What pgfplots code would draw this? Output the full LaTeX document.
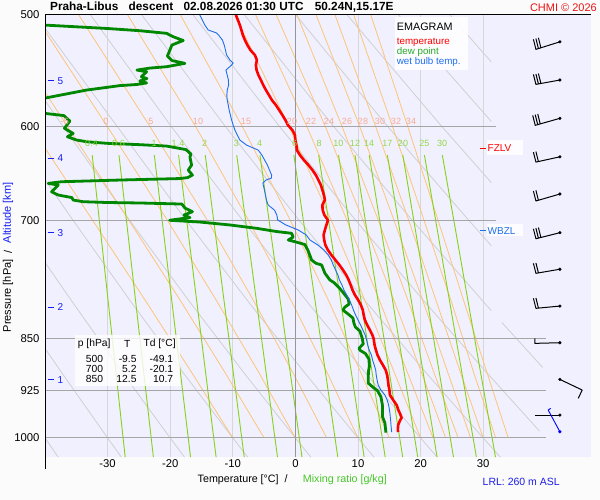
\documentclass[border=0pt]{standalone}
\usepackage{fontspec}
\setmainfont{Liberation Sans}
\usepackage{pgfplots}
\pgfplotsset{compat=1.18}
\definecolor{lav}{RGB}{240,240,255}
\definecolor{pagebg}{RGB}{251,251,251}
\definecolor{moist}{RGB}{255,196,120}
\definecolor{dry}{RGB}{208,208,208}
\definecolor{mix}{RGB}{135,210,20}
\definecolor{mixlab}{RGB}{150,215,70}
\definecolor{moistlab}{RGB}{250,170,145}
\definecolor{tgrid}{RGB}{215,215,215}
\definecolor{zgrid}{RGB}{150,150,150}
\definecolor{pgrid}{RGB}{165,165,165}
\definecolor{tred}{RGB}{255,0,0}
\definecolor{tdgreen}{RGB}{0,135,0}
\definecolor{leggreen}{RGB}{40,170,40}
\definecolor{wbblue}{RGB}{30,110,235}
\definecolor{altblue}{RGB}{20,30,245}
\definecolor{labgreen}{RGB}{70,200,40}
\definecolor{lrlblue}{RGB}{30,30,230}
\definecolor{chmired}{RGB}{235,20,20}
\pgfplotsset{
  mixl/.style={mix, line width=0.9pt},
  moistl/.style={moist, line width=0.8pt},
  dryl/.style={dry, line width=0.8pt},
  barb/.style={black, line width=1pt},
}
\tikzset{t/.style={inner sep=0pt, anchor=west}}
\begin{document}
\begin{tikzpicture}[x=1pt,y=1pt]
\path[use as bounding box, fill=pagebg] (0,0) rectangle (600,500);
\begin{axis}[
  at={(45pt,43pt)}, anchor=south west,
  scale only axis, width=546pt, height=442pt,
  xmin=-40, xmax=47.22, ymin=500, ymax=1031.8,
  ymode=log, y dir=reverse,
  axis background/.style={fill=lav},
  axis line style={draw=none},
  major tick length=0pt, tick style={draw=none},
  ytick={500,600,700,850,925,1000},
  yticklabels={500,600,700,850,925,1000},
  xtick={-30,-20,-10,0,10,20,30},
  xticklabels={-30,-20,-10,0,10,20,30},
  ticklabel style={font=\fontsize{11.3}{11.3}\selectfont},
  yticklabel style={xshift=-2pt},
  xticklabel style={yshift=1pt},
  clip=true,
  every axis plot/.append style={no markers, line join=round},
]
% temperature grid
\addplot[tgrid, line width=1pt] coordinates {(-30,500) (-30,1031.8)};
\addplot[tgrid, line width=1pt] coordinates {(-20,500) (-20,1031.8)};
\addplot[tgrid, line width=1pt] coordinates {(-10,500) (-10,1031.8)};
\addplot[tgrid, line width=1pt] coordinates {(10,500) (10,1031.8)};
\addplot[tgrid, line width=1pt] coordinates {(20,500) (20,1031.8)};
\addplot[tgrid, line width=1pt] coordinates {(30,500) (30,1031.8)};
% dry adiabats
\addplot[dryl] coordinates {(-37.89,1032) (-40,1000) (-41,985)};
\addplot[dryl] coordinates {(-27.80,1032) (-30,1000) (-37.22,900) (-40,863.5)};
\addplot[dryl] coordinates {(-17.71,1032) (-20,1000) (-27.51,900) (-35.65,800) (-40,750)};
\addplot[dryl] coordinates {(-7.62,1032) (-10,1000) (-17.81,900) (-26.27,800) (-35.52,700) (-40,655)};
\addplot[dryl] coordinates {(2.47,1032) (0,1000) (-8.11,900) (-16.89,800) (-26.49,700) (-37.13,600) (-40,575)};
\addplot[dryl] coordinates {(12.56,1032) (10,1000) (1.60,900) (-7.50,800) (-17.46,700) (-28.49,600) (-40,510.9)};
\addplot[dryl] coordinates {(22.65,1032) (20,1000) (11.30,900) (1.88,800) (-8.43,700) (-19.85,600) (-32.72,500)};
\addplot[dryl] coordinates {(32.74,1032) (30,1000) (21.00,900) (11.26,800) (0.60,700) (-11.21,600) (-24.52,500)};
\addplot[dryl] coordinates {(39,988.9) (30.71,900) (20.64,800) (9.63,700) (-2.56,600) (-16.32,500)};
\addplot[dryl] coordinates {(31.3,811.9) (18.66,700) (6.08,600) (-8.11,500)};
\addplot[dryl] coordinates {(33,827.8) (39.5,890.9)};
\addplot[dryl] coordinates {(31.3,729.8) (27.69,700) (14.71,600) (0.09,500)};
\addplot[dryl] coordinates {(31.3,658.1) (23.36,600) (8.29,500)};
\addplot[dryl] coordinates {(31.3,595.3) (24.50,550) (16.49,500)};
\addplot[dryl] coordinates {(31.3,540) (24.70,500)};
% moist adiabats
\addplot[moistl] coordinates {(-10,1000) (-16.45,900) (-23.83,800) (-32.39,700) (-42.29,600)};
\addplot[moistl] coordinates {(-5,1000) (-11.13,900) (-18.25,800) (-26.59,700) (-36.44,600) (-48.03,500)};
\addplot[moistl] coordinates {(0,1000) (-5.74,900) (-12.49,800) (-20.45,700) (-30.07,600) (-41.68,500)};
\addplot[moistl] coordinates {(5,1000) (-0.31,900) (-6.58,800) (-14.07,700) (-23.26,600) (-34.60,500)};
\addplot[moistl] coordinates {(10,1000) (5.15,900) (-0.57,800) (-7.49,700) (-15.96,600) (-26.78,500)};
\addplot[moistl] coordinates {(15,1000) (10.53,900) (5.39,800) (-0.81,700) (-8.50,600) (-18.36,500)};
\addplot[moistl] coordinates {(20,1000) (15.88,900) (11.20,800) (5.73,700) (-1.04,600) (-9.68,500)};
\addplot[moistl] coordinates {(22,1000) (17.97,900) (13.52,800) (8.24,700) (1.82,600) (-6.34,500)};
\addplot[moistl] coordinates {(24,1000) (20.21,900) (15.84,800) (10.81,700) (4.77,600) (-3.05,500)};
\addplot[moistl] coordinates {(26,1000) (22.20,900) (18.07,800) (13.25,700) (7.44,600) (0.27,500)};
\addplot[moistl] coordinates {(28,1000) (24.41,900) (20.42,800) (15.75,700) (10.27,600) (3.32,500)};
\addplot[moistl] coordinates {(30,1000) (26.43,900) (22.54,800) (18.10,700) (12.81,600) (6.34,500)};
\addplot[moistl] coordinates {(32,1000) (28.53,900) (24.92,800) (20.55,700) (15.50,600) (9.33,500)};
\addplot[moistl] coordinates {(34,1000) (30.66,900) (26.94,800) (22.79,700) (17.94,600) (12.05,500)};
% mixing ratio lines
\addplot[mixl] coordinates {(-32.46,629) (-27.19,1031.8)};
\addplot[mixl] coordinates {(-28.18,629) (-22.69,1031.8)};
\addplot[mixl] coordinates {(-22.54,629) (-16.75,1031.8)};
\addplot[mixl] coordinates {(-18.66,629) (-12.67,1031.8)};
\addplot[mixl] coordinates {(-14.40,629) (-8.18,1031.8)};
\addplot[mixl] coordinates {(-9.37,629) (-2.86,1031.8)};
\addplot[mixl] coordinates {(-5.66,629) (1.05,1031.8)};
\addplot[mixl] coordinates {(-0.25,629) (6.77,1031.8)};
\addplot[mixl] coordinates {(3.72,629) (10.98,1031.8)};
\addplot[mixl] coordinates {(6.89,629) (14.34,1031.8)};
\addplot[mixl] coordinates {(9.52,629) (17.14,1031.8)};
\addplot[mixl] coordinates {(11.79,629) (19.54,1031.8)};
\addplot[mixl] coordinates {(14.69,629) (22.63,1031.8)};
\addplot[mixl] coordinates {(17.16,629) (25.25,1031.8)};
\addplot[mixl] coordinates {(20.61,629) (28.91,1031.8)};
\addplot[mixl] coordinates {(23.47,629) (31.96,1031.8)};
% 0 C line and pressure grid
\addplot[zgrid, line width=1pt] coordinates {(0,500) (0,1031.8)};
\addplot[pgrid, line width=1pt] coordinates {(-40,600) (32.03,600)};
\addplot[pgrid, line width=1pt] coordinates {(-40,700) (32.03,700)};
\addplot[pgrid, line width=1pt] coordinates {(-40,850) (40,850)};
\addplot[pgrid, line width=1pt] coordinates {(-40,925) (40,925)};
\addplot[pgrid, line width=1pt] coordinates {(-40,1000) (40,1000)};
% dew point
\addplot[tdgreen, line width=2.8pt] coordinates {
(-49.1,500) (-40.0,508.3) (-30.16,511.1) (-24.84,513.0) (-20.58,515.2) (-19.52,518.1) (-17.92,521.3) (-19.73,525.2) (-20.05,529.5) (-20.45,534.8) (-19.73,538.7) (-17.65,541.2) (-20.58,544.2) (-23.24,545.4) (-25.32,547.2) (-23.77,548.7) (-24.60,553.2) (-23.72,554.9) (-24.84,557.1) (-23.77,558.9) (-25.37,560.3) (-28.04,561.3) (-31.23,563.8) (-33.35,565.4) (-40.0,572.9) (-46,580) (-40.0,587.5) (-36.98,589.6) (-36.02,594.9) (-36.90,602.0) (-35.50,607.1) (-36.42,610.4) (-34.95,613.7) (-33.35,615.4) (-30.16,617.0) (-24.84,618.4) (-20.58,619.8) (-17.49,623.4) (-16.69,628.0) (-16.85,631.1) (-16.58,639.4) (-17.12,644.7) (-16.45,650.0) (-17.25,652.7) (-18.45,653.7) (-28.04,655.3) (-37.35,657.1) (-39.49,658.9) (-37.89,660.7) (-38.95,668.0) (-37.89,671.6) (-35.70,674.4) (-35.50,677.1) (-33.90,679.0) (-30.16,679.9) (-24.84,680.4) (-18.13,681.6) (-17.65,686.1) (-16.45,690.2) (-17.81,694.0) (-16.85,696.9) (-20.1,700.0) (-15.26,702.0) (-10.46,705.4) (-6.20,709.2) (-3.00,713.0) (-0.61,715.1) (-0.35,719.5) (-1.15,723.0) (-0.08,725.0) (1.52,728.4) (2.04,736.1) (2.59,747.1) (3.27,751.1) (4.19,753.2) (4.71,763.5) (5.51,772.0) (6.15,775.2) (6.95,781.5) (7.51,786.9) (8.43,796.4) (8.59,802.9) (7.91,806.9) (7.59,810.9) (8.43,816.2) (9.19,821.6) (9.35,828.4) (9.58,833.8) (10.30,839.3) (10.7,850.0) (10.83,857.3) (10.14,863.5) (10.38,866.5) (11.18,870.8) (11.74,878.7) (11.82,888.9) (11.66,897.6) (11.63,914.0) (12.30,919.6) (13.10,925.3) (13.66,934.7) (13.90,947.5) (13.93,966.4) (14.30,975.9) (14.46,991.3)
};
% wet bulb
\addplot[wbblue, line width=0.9pt] coordinates {
(-15.26,500) (-14.86,504.1) (-14.46,508.3) (-13.93,512.4) (-12.59,514.9) (-12.27,516.7) (-11.66,520.9) (-11.37,525.2) (-11.17,529.5) (-10.99,533.9) (-10.46,538.3) (-9.94,540.9) (-10.19,542.7) (-11.10,547.2) (-10.89,551.7) (-10.70,556.2) (-10.67,560.8) (-10.88,565.4) (-10.96,570.1) (-10.89,574.8) (-10.73,579.5) (-10.58,584.3) (-10.38,589.1) (-10.19,593.9) (-9.94,598.8) (-9.66,603.8) (-9.27,608.7) (-8.87,613.7) (-7.80,618.8) (-5.94,623.9) (-5.35,629.0) (-4.92,634.2) (-4.47,639.4) (-4.14,644.7) (-3.80,650.0) (-3.83,653.2) (-4.71,655.3) (-5.19,658.5) (-5.13,660.7) (-4.95,666.1) (-4.79,671.6) (-4.63,677.1) (-4.35,682.7) (-3.35,688.3) (-2.96,694.0) (-2.83,699.7) (-1.52,705.4) (0.45,711.2) (1.74,717.1) (2.32,723.0) (3.59,728.9) (4.55,734.9) (5.27,741.0) (5.73,747.1) (6.04,753.2) (6.42,759.4) (6.79,765.7) (7.03,772.0) (7.43,778.3) (7.75,784.7) (8.19,791.2) (8.63,797.7) (8.99,804.3) (9.27,810.9) (9.62,817.6) (10.02,824.3) (10.42,831.1) (10.78,837.9) (11.15,844.8) (11.37,851.7) (11.55,858.8) (11.79,865.8) (12.14,873.0) (12.33,880.1) (12.59,887.4) (12.83,894.7) (12.91,902.1) (13.05,909.5) (13.23,917.0) (13.66,924.5) (14.30,932.1) (14.66,939.8) (14.89,947.5) (15.03,955.3) (15.13,963.2) (15.21,971.1) (15.27,979.1) (15.37,990.4)
};
% temperature
\addplot[tred, line width=2.6pt] coordinates {
(-9.5,500) (-9.19,504.1) (-8.87,508.3) (-8.63,512.4) (-8.39,516.7) (-8.07,520.9) (-7.67,525.2) (-7.19,529.5) (-6.47,533.9) (-6.15,538.3) (-6.31,542.7) (-6.20,547.2) (-5.91,551.7) (-5.51,556.2) (-5.14,560.8) (-4.71,565.4) (-4.23,570.1) (-3.75,574.8) (-3.12,579.5) (-2.59,584.3) (-2.08,589.1) (-1.60,593.9) (-1.20,598.8) (-0.48,603.8) (-0.08,608.7) (0.00,613.7) (0.16,618.8) (0.24,623.9) (0.72,629.0) (1.36,634.2) (2.08,639.4) (2.72,644.7) (3.27,650.0) (3.67,655.3) (4.07,660.7) (4.31,666.1) (4.55,671.6) (4.71,677.1) (4.31,682.7) (4.35,688.3) (4.63,694.0) (5.2,700.0) (4.95,705.4) (4.71,711.2) (4.50,717.1) (4.60,723.0) (4.79,728.9) (5.19,734.9) (5.75,741.0) (6.39,747.1) (7.03,753.2) (7.59,759.4) (8.12,765.7) (8.51,772.0) (8.83,778.3) (9.12,784.7) (9.50,791.2) (10.02,797.7) (10.46,804.3) (10.77,810.9) (10.91,817.6) (11.10,824.3) (11.47,831.1) (11.90,837.9) (12.30,844.8) (12.5,850.0) (12.65,858.8) (12.86,865.8) (13.12,873.0) (13.50,880.1) (13.98,887.4) (14.42,894.7) (14.66,902.1) (14.78,909.5) (14.87,917.0) (15.02,924.5) (15.10,932.1) (15.62,939.8) (16.17,947.5) (16.45,955.3) (16.81,963.2) (16.96,967.9) (16.74,971.1) (16.41,979.1) (16.36,987.2) (16.42,990.4)
};
% wind barbs
\addplot[barb] coordinates {(38.02,520.3) (38.42,528.9) (42.25,522.4)};
\addplot[barb] coordinates {(38.82,528.2) (38.42,519.6)};
\addplot[barb] coordinates {(39.22,527.6) (38.82,519.0)};
\addplot[barb] coordinates {(38.02,551.1) (38.42,560.2) (42.25,556.2)};
\addplot[barb] coordinates {(38.82,559.8) (38.42,550.7)};
\addplot[barb] coordinates {(39.22,559.4) (38.82,550.3)};
\addplot[barb] coordinates {(37.91,589.4) (38.31,599.1) (42.25,592.2)};
\addplot[barb] coordinates {(38.71,598.4) (38.31,588.7)};
\addplot[barb] coordinates {(39.11,597.7) (38.71,588.0)};
\addplot[barb] coordinates {(38.02,626.0) (38.42,636.3) (42.25,630.8)};
\addplot[barb] coordinates {(38.82,635.7) (38.42,625.4)};
\addplot[barb] coordinates {(38.02,667.2) (38.42,678.2) (42.25,670.5)};
\addplot[barb] coordinates {(38.82,677.4) (38.42,666.4)};
\addplot[barb] coordinates {(38.02,709.8) (38.42,721.5) (42.25,714.4)};
\addplot[barb] coordinates {(38.82,720.8) (38.42,709.1)};
\addplot[barb] coordinates {(39.22,720.1) (38.82,708.4)};
\addplot[barb] coordinates {(38.02,751.2) (38.42,763.6) (42.25,758.5)};
\addplot[barb] coordinates {(38.82,763.1) (38.42,750.7)};
\addplot[barb] coordinates {(38.02,795.5) (38.42,808.6) (42.25,805.6)};
\addplot[barb] coordinates {(38.82,808.2) (38.42,795.1)};
\addplot[barb] coordinates {(38.26,849.4) (38.26,856.4) (42.25,855.5)};
\addplot[barb] coordinates {(42.25,908.5) (45.81,924.5) (45.18,937.2)};
\addplot[barb] coordinates {(38.26,963.2) (42.25,963.2)};
\addplot[blue, line width=0.9pt] coordinates {(42.25,989.9) (40.38,955.3) (40.77,952.6)};
\addplot[only marks, mark=square*, mark size=1.4pt, black] coordinates {(42.25,522.4) (42.25,556.2) (42.25,592.2) (42.25,630.8) (42.25,670.5) (42.25,714.4) (42.25,758.5) (42.25,805.6) (42.25,855.5) (42.25,908.5) (42.25,963.2)};
\addplot[only marks, mark=square*, mark size=1.4pt, blue] coordinates {(42.25,989.9)};
\end{axis}
% axis lines
\draw[black, line width=1pt] (45,31) -- (45,485) -- (591,485);
% title and corner text
\node[t, font=\bfseries\fontsize{11.8}{12}\selectfont] at (50,492.5) {Praha-Libus\hspace{7pt} descent\hspace{7pt} 02.08.2026 01:30 UTC\hspace{8pt} 50.24N,15.17E};
\node[inner sep=0pt, anchor=east, text=chmired, font=\fontsize{11}{12}\selectfont] at (597,492.5) {CHMI © 2026};
% axis titles
\node[t, font=\fontsize{10.7}{11}\selectfont] at (197.5,20) {Temperature [°C]\hspace{6pt}/};
\node[t, text=labgreen, font=\fontsize{10.7}{11}\selectfont] at (302.7,20) {Mixing ratio [g/kg]};
\node[t, text=lrlblue, font=\fontsize{10.5}{11}\selectfont] at (482.5,18.3) {LRL: 260 m ASL};
\node[inner sep=0pt, rotate=90, font=\fontsize{11}{11}\selectfont] at (8,204.2) {Pressure [hPa]};
\node[inner sep=0pt, rotate=90, font=\fontsize{11}{11}\selectfont] at (8,248) {/};
\node[inner sep=0pt, rotate=90, text=altblue, font=\fontsize{11}{11}\selectfont] at (8,287) {Altitude [km]};
% altitude ticks
\foreach \yy/\lab in {419.3/5, 341.7/4, 267.3/3, 192.7/2, 120/1} {
  \draw[altblue, line width=1pt] (47.5,\yy) -- (53.5,\yy);
  \node[t, text=altblue, font=\fontsize{10}{10}\selectfont] at (57.5,\yy) {\lab};
}
% moist adiabat labels
\foreach \xx/\lab in {65/-5, 106/0, 151/5, 198/10, 246/15, 292/20, 311/22, 329/24, 347/26, 363/28, 380/30, 396/32, 411/34} {
  \node[inner sep=0pt, text=moistlab, font=\fontsize{9}{9}\selectfont] at (\xx,379) {\lab};
}
% mixing ratio labels
\foreach \xx/\lab in {91.5/0.4, 118.5/0.6, 154.2/1, 178/1.4, 204.7/2, 236.5/3, 259.6/4, 294.5/6, 319/8, 338.4/10, 355/12, 369.2/14, 387.4/17, 403/20, 424.3/25, 442.2/30} {
  \node[inner sep=0pt, text=mixlab, font=\fontsize{9}{9}\selectfont] at (\xx,357) {\lab};
}
% legend
\fill[white, opacity=0.9] (395,483) rectangle (468,430);
\node[t, font=\fontsize{10.8}{10.8}\selectfont] at (396.7,473) {EMAGRAM};
\node[t, text=tred, font=\fontsize{9.8}{9.8}\selectfont] at (396.7,458) {temperature};
\node[t, text=leggreen, font=\fontsize{9.8}{9.8}\selectfont] at (396.7,448.3) {dew point};
\node[t, text=wbblue, font=\fontsize{9.8}{9.8}\selectfont] at (396.7,438.3) {wet bulb temp.};
% freezing levels
\fill[white, opacity=0.9] (487,360) rectangle (523,345);
\draw[tred, line width=1pt] (480,351.7) -- (485.5,351.7);
\node[t, text=tred, font=\fontsize{10}{10}\selectfont] at (487.5,351.7) {FZLV};
\fill[white, opacity=0.9] (487,276) rectangle (523,264);
\draw[wbblue, line width=1pt] (480,269.3) -- (485.5,269.3);
\node[t, text=wbblue, font=\fontsize{10}{10}\selectfont] at (487.5,269.3) {WBZL};
% table
\fill[white, opacity=0.8] (75,165) rectangle (180,114);
\node[t, font=\fontsize{10.3}{10.3}\selectfont] at (77.7,156.3) {p [hPa]};
\node[t, font=\fontsize{10.3}{10.3}\selectfont] at (124,156.3) {T};
\node[t, font=\fontsize{10.3}{10.3}\selectfont] at (143.3,156.3) {Td [°C]};
\foreach \yy/\a/\b/\c in {141/500/-9.5/-49.1, 131/700/5.2/-20.1, 121/850/12.5/10.7} {
  \node[inner sep=0pt, anchor=east, font=\fontsize{10.3}{10.3}\selectfont] at (103.3,\yy) {\a};
  \node[inner sep=0pt, anchor=east, font=\fontsize{10.3}{10.3}\selectfont] at (136.7,\yy) {\b};
  \node[inner sep=0pt, anchor=east, font=\fontsize{10.3}{10.3}\selectfont] at (173.3,\yy) {\c};
}
\end{tikzpicture}
\end{document}
